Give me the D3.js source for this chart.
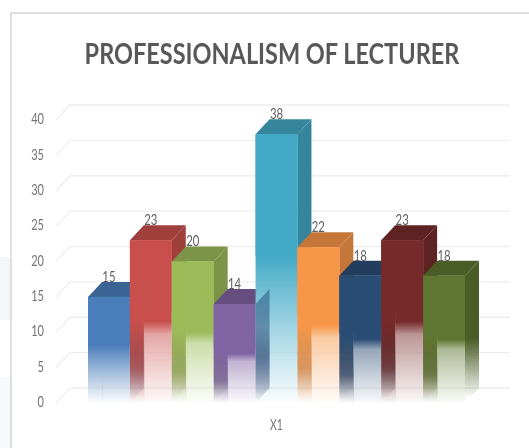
<!DOCTYPE html>
<html>
<head>
<meta charset="utf-8">
<script src="https://cdn.jsdelivr.net/npm/d3@7"></script>
<style>
  html, body { margin: 0; padding: 0; background: #fff; }
  svg { display: block; }
  text { font-family: Lato, "Open Sans", sans-serif; }
</style>
</head>
<body>
<div id="chart"></div>
<script>
var title = "PROFESSIONALISM OF LECTURER";
var categories = ["X1"];
var seriesIds = ["S1", "S2", "S3", "S4", "S5", "S6", "S7", "S8", "S9"];
var values = [15, 23, 20, 14, 38, 22, 18, 23, 18];
var yTicks = [0, 5, 10, 15, 20, 25, 30, 35, 40];
var colors = ["#4a7ebb", "#c9504d", "#9bbb59", "#8064a2", "#43a9c6", "#f79646", "#2c4d75", "#772c2a", "#5f7530"];
// these two fade smoothly, the others have a lighter inner panel
var smoothFade = ["S1", "S5"];

var svgWidth = 529, svgHeight = 448;
var depthX = 14, depthY = 15, stripW = 14;

var svg = d3.select("#chart").append("svg")
	.attr("width", svgWidth)
	.attr("height", svgHeight);

var defs = svg.append("defs");
defs.append("filter").attr("id", "soft")
	.attr("filterUnits", "userSpaceOnUse")
	.attr("x", 0).attr("y", 0).attr("width", svgWidth).attr("height", svgHeight)
	.append("feGaussianBlur").attr("stdDeviation", 0.45);

// card
svg.append("rect").attr("width", svgWidth).attr("height", svgHeight).attr("fill", "#fff");
svg.append("rect").attr("x", 0).attr("y", 257).attr("width", 10).attr("height", 63).attr("fill", "#f3f6fb");
svg.append("rect").attr("x", 0).attr("y", 377).attr("width", 10).attr("height", 71).attr("fill", "#f8f9fb");
svg.append("path")
	.attr("d", "M11,448V13H529")
	.attr("fill", "none")
	.attr("stroke", "#dedede")
	.attr("stroke-width", 2);

var yScale = d3.scaleLinear().domain([0, 40]).range([403, 120]);
var xBars = d3.scaleBand().domain(seriesIds).range([88, 465]);
var xCat = d3.scaleBand().domain(categories).range([88, 465]);

var g = svg.append("g").attr("filter", "url(#soft)");

// narrow the Lato glyphs, the original face is much tighter
function squeeze(sel, perChar) {
	sel.each(function() {
		var t = d3.select(this);
		var sx = t.text().length * perChar / this.getComputedTextLength();
		var x = +t.attr("x") || 0;
		t.attr("transform", (t.attr("transform") || "") + " translate(" + x + ",0) scale(" + sx + ",1) translate(" + (-x) + ",0)");
	});
}

g.append("text")
	.attr("x", 272).attr("y", 64)
	.attr("text-anchor", "middle")
	.attr("font-size", 29)
	.attr("font-weight", 700)
	.attr("fill", "#595959")
	.text(title)
	.call(squeeze, 375 / title.length);

// gridlines on the back wall and the slanted ones on the side wall
var grid = g.append("g").attr("stroke", "#eeeeee").attr("stroke-width", 1.3).attr("fill", "none");
grid.selectAll(".back").data(yTicks).enter().append("line")
	.attr("class", "back")
	.attr("x1", 70).attr("x2", 510)
	.attr("y1", function(d) { return yScale(d) - depthY; })
	.attr("y2", function(d) { return yScale(d) - depthY; });
grid.selectAll(".wall").data(yTicks).enter().append("line")
	.attr("class", "wall")
	.attr("x1", 70 - depthX).attr("x2", 70)
	.attr("y1", function(d) { return yScale(d); })
	.attr("y2", function(d) { return yScale(d) - depthY; });

// axes
var yAxis = g.append("g")
	.attr("transform", "translate(47,-1)")
	.call(d3.axisLeft(yScale).tickValues(yTicks).tickSize(0));
var xAxis = g.append("g")
	.attr("transform", "translate(0,417)")
	.call(d3.axisBottom(xCat).tickSize(0));
[yAxis, xAxis].forEach(function(a) {
	a.select(".domain").remove();
	a.selectAll("text")
		.attr("font-size", 14.5)
		.attr("font-family", "Lato, sans-serif")
		.attr("fill", "#747474")
		.call(squeeze, 6.4);
});

function vGrad(id, stops) {
	var lg = defs.append("linearGradient").attr("id", id)
		.attr("x1", 0).attr("y1", 0).attr("x2", 0).attr("y2", 1);
	stops.forEach(function(s) {
		lg.append("stop")
			.attr("offset", s[0])
			.attr("stop-color", s[1])
			.attr("stop-opacity", s[2]);
	});
}

colors.forEach(function(c, i) {
	var dark = d3.rgb(c).darker(0.65).formatHex();
	var light = d3.interpolateRgb(c, "#fff")(0.5);
	var strip = d3.interpolateRgb(c, dark)(0.6);
	if (smoothFade.indexOf(seriesIds[i]) >= 0) {
		vGrad("strip" + i, [[0, c, 1], [0.45, c, 1], [0.72, light, 1], [0.98, light, 0.1], [1, light, 0]]);
		vGrad("front" + i, [[0, c, 1], [0.45, c, 1], [0.72, light, 1], [0.98, light, 0.1], [1, light, 0]]);
	} else {
		vGrad("strip" + i, [[0, c, 1], [0.5, c, 1], [0.78, strip, 0.8], [1, strip, 0]]);
		vGrad("front" + i, [[0, c, 1], [0.5, c, 1], [0.58, light, 1], [0.98, light, 0.1], [1, light, 0]]);
	}
	vGrad("side" + i, [[0, dark, 1], [0.55, dark, 1], [0.97, dark, 0]]);
});
vGrad("overlay", [[0, "#1f4a78", 0.5], [0.6, "#2c4d75", 0.55], [1, "#2c4d75", 0]]);

function sidePath(i) {
	var x = xBars(seriesIds[i]), w = xBars.bandwidth();
	return "M" + (x + w) + "," + yScale(values[i]) + "l" + depthX + "," + (-depthY)
		+ "V" + (yScale(0) - depthY) + "l" + (-depthX) + "," + depthY + "Z";
}

var bars = g.selectAll(".bar").data(values).enter().append("g").attr("class", "bar");

bars.each(function(d, i) {
	var b = d3.select(this);
	var x = xBars(seriesIds[i]), w = xBars.bandwidth();
	var y0 = yScale(0), y = yScale(d);

	b.append("path")
		.attr("d", sidePath(i))
		.attr("fill", "url(#side" + i + ")");
	b.append("path")
		.attr("d", "M" + x + "," + y + "l" + depthX + "," + (-depthY) + "h" + w
			+ "l" + (-depthX) + "," + depthY + "Z")
		.attr("fill", d3.rgb(colors[i]).darker(0.65).formatHex());
	b.append("rect")
		.attr("x", x).attr("y", y)
		.attr("width", stripW + 0.5).attr("height", y0 - y)
		.attr("fill", "url(#strip" + i + ")");
	b.append("rect")
		.attr("x", x + stripW).attr("y", y)
		.attr("width", w - stripW).attr("height", y0 - y)
		.attr("fill", "url(#front" + i + ")");
	// solid upper part in one piece, hides the seam between the two panels
	b.append("rect")
		.attr("x", x).attr("y", y)
		.attr("width", w).attr("height", (y0 - y) * 0.45)
		.attr("fill", colors[i]);
});

// side of the purple bar shows through the front of the tall one
g.append("path")
	.attr("d", sidePath(3))
	.attr("fill", "url(#overlay)");

g.selectAll(".val").data(values).enter().append("text")
	.attr("class", "val")
	.attr("x", function(d, i) { return xBars(seriesIds[i]) + xBars.bandwidth() / 2; })
	.attr("y", function(d) { return yScale(d) - 15; })
	.attr("text-anchor", "middle")
	.attr("font-size", 14.5)
	.attr("fill", "#5f5f5f")
	.text(function(d) { return d; })
	.call(squeeze, 6.6);
</script>
</body>
</html>
